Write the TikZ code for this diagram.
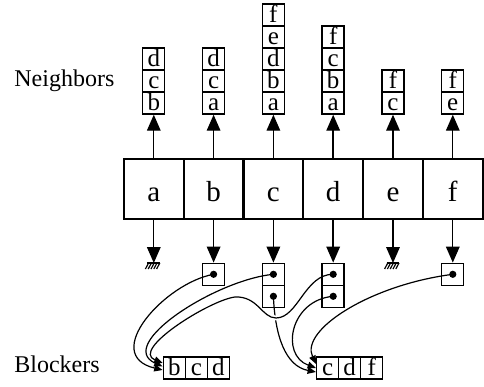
\documentclass[tikz,border=0pt]{standalone}
\usepackage{fontspec}
\setmainfont{Liberation Serif}
\usetikzlibrary{arrows.meta,backgrounds}
\begin{document}
\begin{tikzpicture}[x=0.5pt,y=-0.5pt,
  maincell/.style={draw,line width=1.1pt,minimum width=29.9pt,minimum height=29.9pt,inner sep=0pt,
    text height=12pt,text depth=0pt,font=\fontsize{14.5}{14.5}\selectfont},
  cell/.style={draw,line width=0.7pt,minimum size=11pt,inner sep=0pt,
    text height=8.4pt,text depth=1.3pt,font=\fontsize{12.5}{12.5}\selectfont},
  bigarrow/.style={line width=0.7pt,-{Triangle[width=6.8pt,length=8pt]}},
  smallarrow/.style={line width=0.6pt,-{Triangle[width=3.4pt,length=4.2pt]}},
  lbl/.style={font=\fontsize{12}{12}\selectfont,anchor=base west,inner sep=0pt},
  ground/.style={line width=0.6pt},
]
\useasboundingbox (0,0) rectangle (484,387);

% labels
\node[lbl] (nlabel) at (14,86) {Neighbors};
\node[lbl] (blabel) at (14,372.3) {Blockers};

% main row and neighbor stacks
\foreach \col/\x/\lst in {a/153.8/{b,c,d}, b/213.6/{a,c,d}, c/273.4/{a,b,d,e,f},
                          d/333.2/{a,b,c,f}, e/393/{c,f}, f/452.8/{e,f}} {
  \node[maincell] (m\col) at (\x,189) {\col};
  \foreach \l [count=\i] in \lst {
    \node[cell] (n\col\i) at (\x,{103-22*(\i-1)}) {\l};
  }
  \draw[bigarrow] (m\col.north) -- (n\col1.south);
}

% ground symbols
\foreach \col/\x in {a/153.8, e/393} {
  \coordinate (g\col) at (\x,263);
  \draw[bigarrow] (m\col.south) -- (g\col);
  \draw[ground] ([xshift=-3.2pt]g\col) -- ([xshift=3.2pt]g\col);
  \foreach \i in {0,...,4} {
    \draw[ground] ([xshift={-2.6pt+1.4pt*\i}]g\col) -- ([xshift={-4.2pt+1.4pt*\i},yshift=-3pt]g\col);
  }
}

% blocker pointer boxes
\node[cell] (pb1) at (213.6,274.3) {};
\node[cell] (pc1) at (273.4,274.3) {};
\node[cell] (pc2) at (273.4,296.3) {};
\node[cell] (pd1) at (333.2,274.3) {};
\node[cell] (pd2) at (333.2,296.3) {};
\node[cell] (pf1) at (452.8,274.3) {};
\foreach \p in {b,c,d,f} \draw[bigarrow] (m\p.south) -- (p\p1.north);
\foreach \p in {pb1,pc1,pc2,pd1,pd2,pf1} \fill (\p.center) circle (1.8pt);

% blocker lists
\node[cell] (k1) at (174.3,368) {b};
\node[cell] (k2) at (196.3,368) {c};
\node[cell] (k3) at (218.3,368) {d};
\node[cell] (j1) at (327.7,368) {c};
\node[cell] (j2) at (349.7,368) {d};
\node[cell] (j3) at (371.7,368) {f};

\coordinate (tk1) at ([yshift=-1pt]k1.west);
\coordinate (tk2) at ([yshift=0.75pt]k1.west);
\coordinate (tk3) at ([yshift=2.5pt]k1.west);
\coordinate (tj1) at ([yshift=-2pt]j1.west);
\coordinate (tj2) at ([yshift=0pt]j1.west);
\coordinate (tj3) at ([yshift=2pt]j1.west);

\begin{pgfonlayer}{background}
  % c (lower) -> cdf
  \draw[smallarrow] (pc2.center) .. controls (275,335) and (285,366) .. (tj1);
  % d (upper) -> bcd, crossing over
  \draw[smallarrow,preaction={draw=white,line width=2.4pt,-}]
    (pd1.center) .. controls (305,274) and (298,318) .. (276,318)
    .. controls (262,318) and (258,296) .. (235,297)
    .. controls (210,300) and (130,350) .. (tk3);
  % b -> bcd
  \draw[smallarrow] (pb1.center) .. controls (165,283) and (100,355) .. (tk1);
  % c (upper) -> bcd
  \draw[smallarrow] (pc1.center) .. controls (215,280) and (115,345) .. (tk2);
  % d (lower) -> cdf
  \draw[smallarrow] (pd2.center) .. controls (290,300) and (280,355) .. (tj2);
  % f -> cdf
  \draw[smallarrow] (pf1.center) .. controls (370,285) and (300,330) .. (tj3);
\end{pgfonlayer}
\end{tikzpicture}
\end{document}
